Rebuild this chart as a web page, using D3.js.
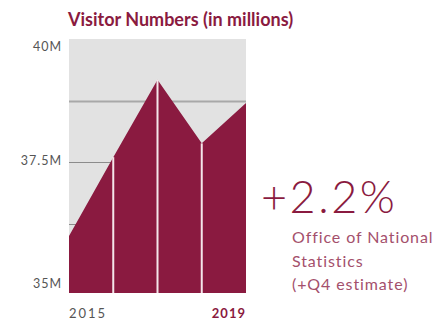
<!DOCTYPE html>
<html>
<head>
<meta charset="utf-8">
<script src="https://cdn.jsdelivr.net/npm/d3@7"></script>
<style>
  html, body { margin: 0; padding: 0; background: #fff; }
  svg { display: block; font-family: Lato, "Open Sans", sans-serif; }
</style>
</head>
<body>
<svg id="chart" width="436" height="325"></svg>
<script>
// Annual visitor numbers, millions
const years = [2015, 2016, 2017, 2018, 2019];
const visitors = [36.0, 37.6, 39.17, 37.88, 38.7];
const yTickValues = [40, 37.5, 35];
const yTickLabels = ["40M", "37.5M", "35M"];
const gridValues = [38.75, 37.5, 36.25];
const xLabels = ["2015", "2019"];
const titleText = "Visitor Numbers (in millions)";
const changeText = "+2.2%";
const sourceLines = ["Office of National", "Statistics", "(+Q4 estimate)"];

const maroon = "#8a1a40";
const svg = d3.select("#chart");

const plotLeft = 69, plotRight = 246, plotTop = 39, plotBottom = 293;

const x = d3.scaleLinear().domain([years[0], years[years.length - 1]]).range([plotLeft, plotRight]);
const y = d3.scaleLinear().domain([34.84, 40]).range([plotBottom, plotTop]);

// Plot background
svg.append("rect")
  .attr("x", plotLeft).attr("y", plotTop)
  .attr("width", plotRight - plotLeft).attr("height", plotBottom - plotTop)
  .attr("fill", "#e2e2e2");

// Gridlines
svg.selectAll("line.grid")
  .data(gridValues)
  .join("line")
  .attr("class", "grid")
  .attr("x1", plotLeft).attr("x2", plotRight)
  .attr("y1", d => Math.round(y(d)) + 0.5)
  .attr("y2", d => Math.round(y(d)) + 0.5)
  .attr("stroke", (d, i) => i === 0 ? "#a8a8a8" : "#8c8c8c")
  .attr("stroke-width", (d, i) => i === 0 ? 2 : 1);

// Area
const pts = years.map((yr, i) => ({ yr, v: visitors[i] }));
const area = d3.area()
  .x(d => x(d.yr))
  .y0(plotBottom)
  .y1(d => y(d.v));

svg.append("path")
  .datum(pts)
  .attr("d", area)
  .attr("fill", maroon);

// Year separators
svg.selectAll("line.sep")
  .data(pts.slice(1, -1))
  .join("line")
  .attr("class", "sep")
  .attr("x1", d => x(d.yr)).attr("x2", d => x(d.yr))
  .attr("y1", d => y(d.v)).attr("y2", plotBottom)
  .attr("stroke", "#f4e6ea")
  .attr("stroke-width", 2);

// Y labels
svg.selectAll("text.ylab")
  .data(yTickValues)
  .join("text")
  .attr("class", "ylab")
  .attr("x", 62)
  .attr("y", (d, i) => i === 0 ? 51 : y(d) + 3)
  .attr("text-anchor", "end")
  .attr("fill", "#555")
  .attr("font-size", 12.5)
  .attr("letter-spacing", 1)
  .text((d, i) => yTickLabels[i]);

// X labels
svg.append("text")
  .attr("x", plotLeft).attr("y", 318)
  .attr("fill", "#555").attr("font-size", 13).attr("letter-spacing", 2)
  .text(xLabels[0]);
svg.append("text")
  .attr("x", plotRight).attr("y", 318)
  .attr("text-anchor", "end")
  .attr("fill", maroon).attr("font-size", 13).attr("font-weight", 700).attr("letter-spacing", 1)
  .text(xLabels[1]);

// Title
svg.append("text")
  .attr("x", 68).attr("y", 26)
  .attr("fill", maroon).attr("font-size", 18).attr("font-weight", 700)
  .text(titleText);

// Headline change
svg.append("text")
  .attr("x", 261).attr("y", 213)
  .attr("fill", maroon).attr("font-size", 45).attr("font-weight", 300)
  .attr("letter-spacing", 2.5)
  .text(changeText);

svg.selectAll("text.src")
  .data(sourceLines)
  .join("text")
  .attr("class", "src")
  .attr("x", 292)
  .attr("y", (d, i) => 243 + i * 23.5)
  .attr("fill", "#a4506c")
  .attr("font-size", 16)
  .attr("letter-spacing", 0.9)
  .text(d => d);
</script>
</body>
</html>
